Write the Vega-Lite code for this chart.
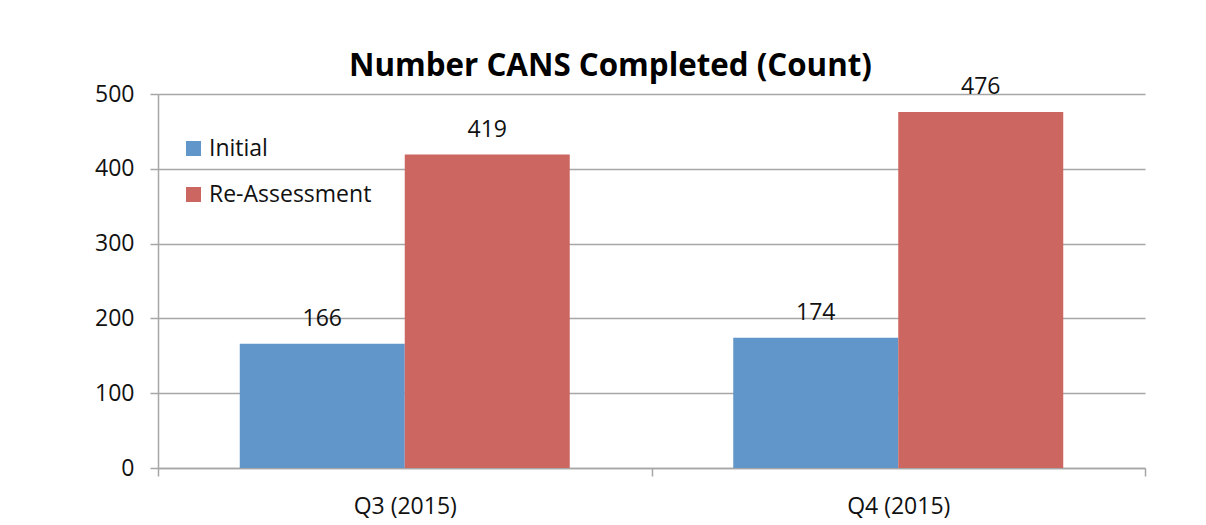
{
  "$schema": "https://vega.github.io/schema/vega-lite/v6.json",
  "width": 987,
  "height": 374,
  "autosize": {"type": "none"},
  "padding": {"left": 158, "top": 94, "right": 61, "bottom": 57},
  "background": "white",
  "title": {
    "text": "Number CANS Completed (Count)",
    "font": "Open Sans",
    "fontSize": 31.3,
    "fontWeight": "bold",
    "color": "black",
    "anchor": "middle",
    "dx": -41,
    "baseline": "alphabetic",
    "offset": -31
  },
  "config": {
    "view": {"stroke": null},
    "font": "Open Sans"
  },
  "data": {
    "values": [
      {"quarter": "Q3 (2015)", "type": "Initial", "count": 166},
      {"quarter": "Q3 (2015)", "type": "Re-Assessment", "count": 419},
      {"quarter": "Q4 (2015)", "type": "Initial", "count": 174},
      {"quarter": "Q4 (2015)", "type": "Re-Assessment", "count": 476}
    ]
  },
  "encoding": {
    "x": {
      "field": "quarter",
      "type": "nominal",
      "scale": {"paddingInner": 0, "paddingOuter": 0},
      "axis": {
        "title": null,
        "labelAngle": 0,
        "tickBand": "extent",
        "tickSize": 8,
        "tickWidth": 1.5,
        "tickColor": "#a6a6a6",
        "domainColor": "#a6a6a6",
        "domainWidth": 1.5,
        "grid": false,
        "labelFont": "Open Sans",
        "labelFontSize": 23,
        "labelColor": "#111111",
        "labelPadding": 19
      }
    },
    "xOffset": {
      "field": "type",
      "type": "nominal",
      "scale": {"paddingInner": 0, "paddingOuter": 0.4955}
    },
    "y": {
      "field": "count",
      "type": "quantitative",
      "scale": {"domain": [0, 500], "nice": false},
      "axis": {
        "title": null,
        "values": [0, 100, 200, 300, 400, 500],
        "tickSize": 8,
        "tickWidth": 1.5,
        "tickColor": "#a6a6a6",
        "domainColor": "#a6a6a6",
        "domainWidth": 1.5,
        "grid": true,
        "gridColor": "#a6a6a6",
        "gridWidth": 1.5,
        "labelFont": "Open Sans",
        "labelFontSize": 23,
        "labelColor": "#111111",
        "labelPadding": 16
      }
    }
  },
  "layer": [
    {
      "mark": {"type": "bar"},
      "encoding": {
        "color": {
          "field": "type",
          "type": "nominal",
          "scale": {"domain": ["Initial", "Re-Assessment"], "range": ["#6096CA", "#CC6660"]},
          "legend": {
            "title": null,
            "orient": "none",
            "legendX": 24,
            "legendY": 43,
            "padding": 0,
            "symbolType": "square",
            "symbolSize": 225,
            "symbolStrokeWidth": 0,
            "labelFont": "Open Sans",
            "labelFontSize": 23,
            "labelColor": "#111111",
            "labelOffset": 4,
            "labelLimit": 400,
            "rowPadding": 22
          }
        }
      }
    },
    {
      "mark": {
        "type": "text",
        "dy": -18,
        "baseline": "alphabetic",
        "font": "Open Sans",
        "fontSize": 23,
        "color": "#111111"
      },
      "encoding": {"text": {"field": "count", "type": "quantitative"}}
    }
  ]
}
